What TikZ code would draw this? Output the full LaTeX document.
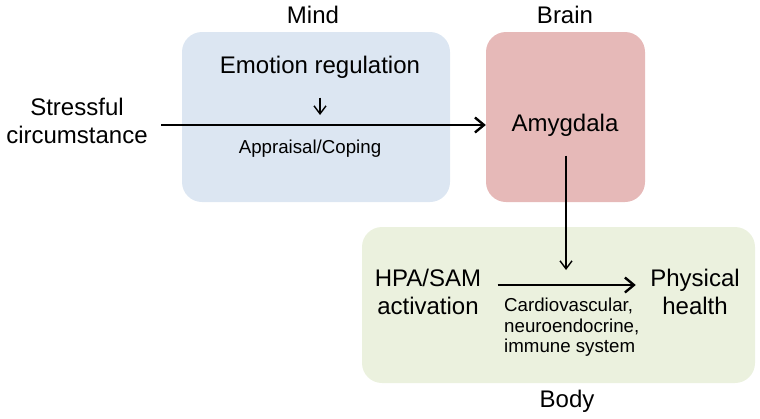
\documentclass[tikz,border=0pt]{standalone}
\usepackage{fontspec}
\setmainfont{Liberation Sans}
\usepackage{xcolor}
\usetikzlibrary{positioning,calc,arrows.meta}

\definecolor{mindblue}{HTML}{DCE6F2}
\definecolor{brainred}{HTML}{E6B9B8}
\definecolor{bodygreen}{HTML}{EBF1DE}

\newcommand{\bigtext}{\fontsize{24}{28}\selectfont}
\newcommand{\smalltext}{\fontsize{18.7}{20.5}\selectfont}

\begin{document}
\begin{tikzpicture}[x=1pt,y=-1pt,
    panel/.style={rounded corners=20pt, inner sep=0pt},
    label/.style={font=\bigtext, align=center},
    note/.style={font=\smalltext, align=left},
    bigarrow/.style={line width=2.4pt, -{Straight Barb[length=9pt,width=15pt]}},
    smallarrow/.style={line width=1.4pt, -{Straight Barb[length=8pt,width=12pt]}}]
    \useasboundingbox (0,0) rectangle (760,418);

    % the three panels
    \node [panel, fill=mindblue, minimum width=268pt, minimum height=170pt] (mind) at (316,117) {};
    \node [panel, fill=brainred, minimum width=159pt, minimum height=170pt] (brain) at (565.5,117) {};
    \node [panel, fill=bodygreen, minimum width=393pt, minimum height=156pt] (body) at (558.5,305) {};
    \node [label] (mindtitle) at (313,15) {Mind};
    \node [label] (braintitle) at (565,15) {Brain};
    \node [label] (bodytitle) at (567,401) {Body};

    % mind and brain
    \node [label] (stress) at (77,121) {Stressful\\circumstance};
    \node [label] (emotion) at (320,67) {Emotion regulation};
    \node [note] (appraisal) at (310,149) {Appraisal/Coping};
    \node [label] (amyg) at (565,125) {Amygdala};
    \coordinate (meet) at (320,115);
    \draw [smallarrow, shorten <=16pt] (emotion.south) -- (meet);
    \draw [bigarrow, shorten <=10pt] (stress.east |- amyg) -- (brain.west |- amyg);

    % body
    \node [label] (hpa) at (428,292) {HPA/SAM\\activation};
    \node [label] (phys) at (695,292) {Physical\\health};
    \node [note, anchor=north west, inner sep=0pt] (systems) at (504,298) {Cardiovascular,\\neuroendocrine,\\immune system};
    \coordinate (hit) at (566,270);
    \draw [smallarrow, shorten <=16pt] (amyg.south -| hit) -- (hit);
    \draw [bigarrow, shorten <=13pt, shorten >=11pt] ([yshift=7pt]hpa.east) -- ([yshift=7pt]phys.west);
\end{tikzpicture}
\end{document}
